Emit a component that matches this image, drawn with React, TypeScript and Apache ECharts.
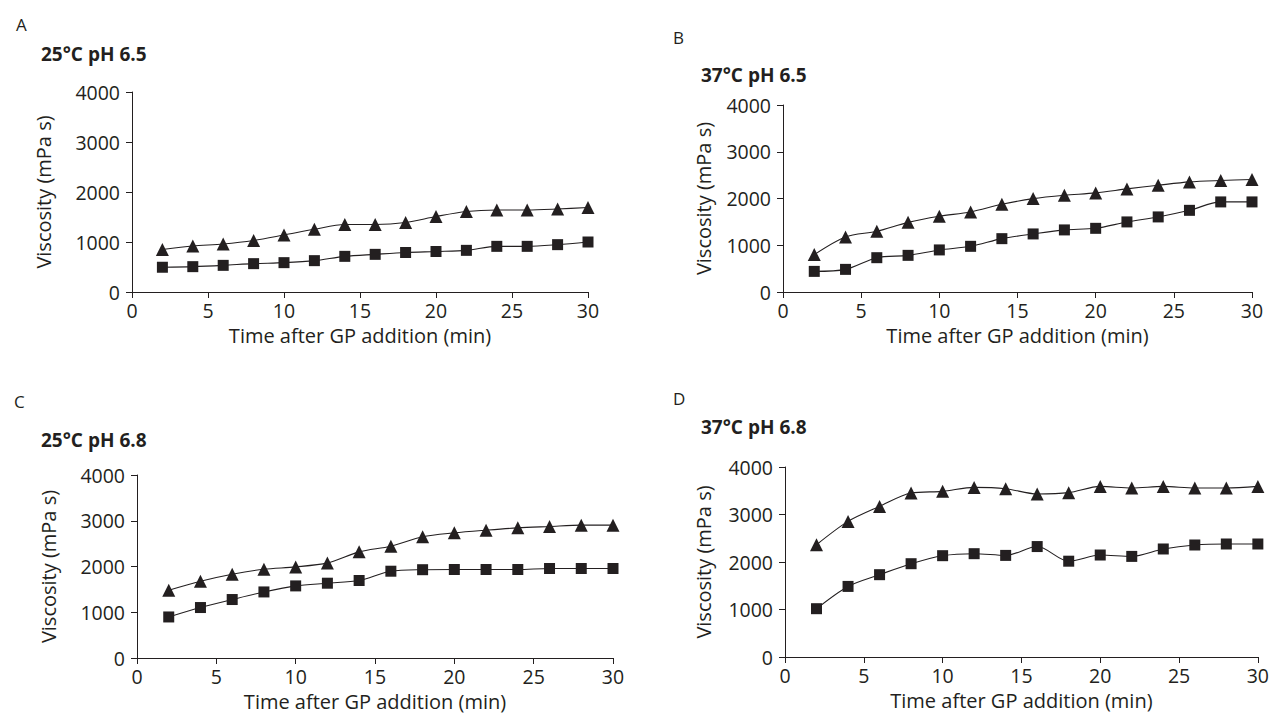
import React, { useEffect, useRef } from "react";
import * as echarts from "echarts";

const time = [2, 4, 6, 8, 10, 12, 14, 16, 18, 20, 22, 24, 26, 28, 30];

const aTriangle = [850, 920, 960, 1030, 1140, 1255, 1350, 1350, 1390, 1510, 1610, 1640, 1640, 1660, 1690];
const aSquare = [495, 507, 533, 567, 587, 627, 713, 753, 790, 810, 833, 913, 913, 947, 1000];
const bTriangle = [800, 1178, 1298, 1490, 1620, 1713, 1876, 1998, 2070, 2120, 2205, 2283, 2355, 2385, 2405];
const bSquare = [441, 484, 734, 784, 900, 977, 1141, 1242, 1328, 1362, 1499, 1606, 1747, 1927, 1927];
const cTriangle = [1481, 1678, 1831, 1941, 1991, 2079, 2320, 2444, 2650, 2735, 2794, 2845, 2875, 2904, 2904];
const cSquare = [897, 1103, 1278, 1444, 1576, 1635, 1694, 1897, 1930, 1934, 1934, 1934, 1956, 1956, 1956];
const dTriangle = [2364, 2855, 3171, 3452, 3487, 3571, 3543, 3432, 3460, 3592, 3558, 3592, 3558, 3558, 3592];
const dSquare = [1017, 1486, 1733, 1964, 2133, 2175, 2139, 2325, 2017, 2147, 2118, 2274, 2358, 2379, 2379];

const panelLetters = ["A", "B", "C", "D"];
const panelTitles = ["25°C pH 6.5", "37°C pH 6.5", "25°C pH 6.8", "37°C pH 6.8"];
const xTicks = [0, 5, 10, 15, 20, 25, 30];
const yTicks = [0, 1000, 2000, 3000, 4000];
const xName = "Time after GP addition (min)";
const yName = "Viscosity (mPa s)";

const INK = "#231f20";
const FONT = "'Open Sans', 'Noto Sans', sans-serif";

const grids = [
  { left: 132, top: 92, width: 456, height: 200 },
  { left: 783, top: 105, width: 469, height: 187 },
  { left: 137, top: 475, width: 476, height: 183 },
  { left: 785, top: 467, width: 474, height: 190 },
];
const yNameGaps = [79, 70, 79, 72];
const letterPos = [
  { left: 11, top: 11 },
  { left: 668, top: 24 },
  { left: 9, top: 388 },
  { left: 668, top: 385 },
];
const titlePos = [
  { left: 36, top: 39 },
  { left: 696, top: 60 },
  { left: 36, top: 425 },
  { left: 696, top: 412 },
];

export default function App() {
  const ref = useRef<HTMLDivElement>(null);
  useEffect(() => {
    if (!ref.current) return;
    const chart = echarts.init(ref.current, null, { renderer: "svg" });
    const pairs = [
      [aTriangle, aSquare],
      [bTriangle, bSquare],
      [cTriangle, cSquare],
      [dTriangle, dSquare],
    ];
    const titles: any[] = [];
    panelLetters.forEach((l, i) => {
      titles.push({
        text: l,
        left: letterPos[i].left,
        top: letterPos[i].top,
        textStyle: { fontFamily: FONT, fontSize: 17, fontWeight: "normal", color: INK },
      });
      titles.push({
        text: panelTitles[i],
        left: titlePos[i].left,
        top: titlePos[i].top,
        textStyle: { fontFamily: FONT, fontSize: 19, fontWeight: "bold", color: INK },
      });
    });
    const axisLine = { show: true, lineStyle: { color: INK, width: 1 } };
    const axisTick = { show: true, length: 6, lineStyle: { color: INK, width: 1 } };
    const labelStyle = { fontFamily: FONT, fontSize: 19.5, color: INK };
    const nameStyle = { fontFamily: FONT, fontSize: 20, color: INK };
    const xAxis = grids.map((_, i) => ({
      type: "value",
      gridIndex: i,
      min: 0,
      max: 30,
      interval: 5,
      axisLine,
      axisTick,
      splitLine: { show: false },
      axisLabel: { ...labelStyle, margin: 8, formatter: (v: number) => (xTicks.includes(v) ? String(v) : "") },
      name: xName,
      nameLocation: "middle",
      nameGap: 33,
      nameTextStyle: nameStyle,
    }));
    const yAxis = grids.map((_, i) => ({
      type: "value",
      gridIndex: i,
      min: 0,
      max: 4000,
      interval: 1000,
      axisLine,
      axisTick,
      splitLine: { show: false },
      axisLabel: { ...labelStyle, margin: 12, formatter: (v: number) => (yTicks.includes(v) ? String(v) : "") },
      name: yName,
      nameLocation: "middle",
      nameGap: yNameGaps[i],
      nameTextStyle: nameStyle,
    }));
    const series: any[] = [];
    pairs.forEach(([tri, sq], i) => {
      series.push({
        type: "line",
        xAxisIndex: i,
        yAxisIndex: i,
        data: time.map((t, k) => [t, tri[k]]),
        smooth: 0.3,
        symbol: "triangle",
        symbolSize: 13,
        itemStyle: { color: INK },
        lineStyle: { color: INK, width: 1.1 },
      });
      series.push({
        type: "line",
        xAxisIndex: i,
        yAxisIndex: i,
        data: time.map((t, k) => [t, sq[k]]),
        smooth: 0.3,
        symbol: "rect",
        symbolSize: 11,
        itemStyle: { color: INK },
        lineStyle: { color: INK, width: 1.1 },
      });
    });
    chart.setOption({
      animation: false,
      backgroundColor: "#ffffff",
      title: titles,
      grid: grids.map((g) => ({ ...g, containLabel: false })),
      xAxis,
      yAxis,
      series,
    });
    return () => chart.dispose();
  }, []);
  return (
    <div
      ref={ref}
      style={{ position: "fixed", left: 0, top: 0, width: 1272, height: 723, background: "#fff" }}
    />
  );
}
